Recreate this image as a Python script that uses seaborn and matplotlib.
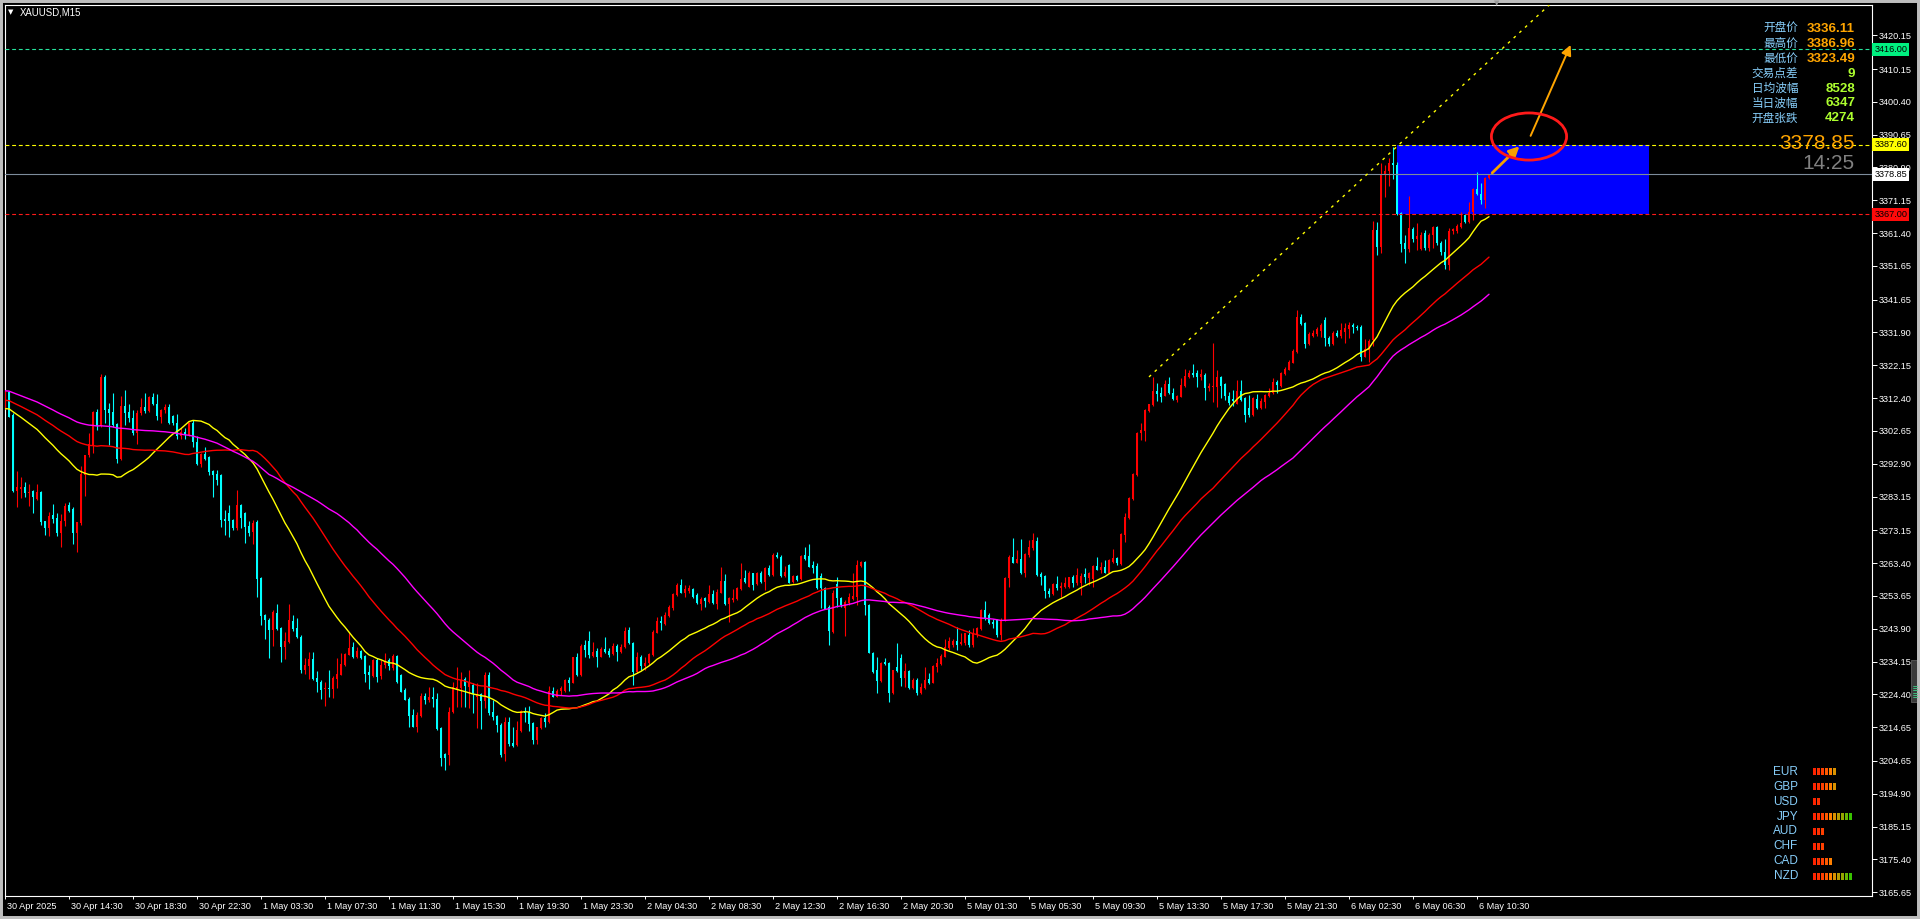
import numpy as np
import pandas as pd
import matplotlib
matplotlib.use("Agg")
import matplotlib.pyplot as plt
import matplotlib.transforms as mtransforms
from matplotlib.patches import Rectangle, Ellipse, FancyArrowPatch
import seaborn as sns

# ---------------- data ----------------
symbol_title = "XAUUSD,M15"

opens = [
    3309.8, 3314.3, 3307.4, 3284.9, 3285.3, 3286.1, 3284.3, 3284.8, 3282.5, 3284.5,
    3275.9, 3273.7, 3277.7, 3276.8, 3272.4, 3275.8, 3280.6, 3279.5, 3272.2, 3275.2,
    3289.5, 3295.5, 3298.5, 3308.4, 3304.1, 3318.8, 3309.1, 3308.4, 3304.7, 3294.2,
    3310.0, 3308.4, 3306.4, 3301.9, 3307.9, 3309.8, 3308.6, 3312.8, 3310.8, 3306.9,
    3308.9, 3309.8, 3307.1, 3305.1, 3301.1, 3302.4, 3301.4, 3305.1, 3299.4, 3292.8,
    3295.8, 3294.8, 3290.7, 3290.0, 3289.5, 3276.6, 3278.4, 3276.2, 3273.7, 3280.6,
    3278.4, 3274.5, 3272.7, 3275.5, 3259.1, 3248.0, 3246.5, 3243.5, 3248.5, 3244.0,
    3238.5, 3240.0, 3246.3, 3244.0, 3241.5, 3231.6, 3232.8, 3234.9, 3229.4, 3228.1,
    3225.9, 3226.4, 3225.9, 3229.1, 3230.1, 3233.1, 3236.1, 3238.4, 3235.4, 3237.4,
    3235.8, 3231.1, 3229.8, 3234.6, 3229.8, 3233.1, 3234.6, 3232.1, 3235.8, 3230.1,
    3225.7, 3223.1, 3218.3, 3214.8, 3218.0, 3223.9, 3222.7, 3223.7, 3222.9, 3214.3,
    3206.7, 3206.4, 3219.2, 3225.7, 3226.2, 3228.9, 3226.5, 3227.2, 3223.7, 3224.5,
    3222.5, 3230.2, 3219.3, 3218.0, 3215.3, 3206.7, 3216.3, 3210.1, 3209.4, 3213.6,
    3219.6, 3219.3, 3216.0, 3210.9, 3214.3, 3217.3, 3216.3, 3225.5, 3223.7, 3225.5,
    3225.5, 3228.7, 3227.9, 3235.4, 3230.1, 3239.1, 3240.4, 3235.9, 3237.4, 3235.6,
    3237.8, 3237.3, 3236.4, 3238.8, 3237.1, 3238.4, 3243.5, 3239.7, 3231.1, 3235.6,
    3232.8, 3233.6, 3236.1, 3242.7, 3246.3, 3245.3, 3247.7, 3250.2, 3253.9, 3256.9,
    3254.6, 3255.2, 3255.7, 3253.9, 3251.4, 3252.9, 3251.9, 3254.2, 3251.4, 3254.6,
    3258.2, 3251.2, 3252.4, 3252.6, 3255.6, 3258.9, 3256.4, 3260.4, 3257.1, 3260.5,
    3257.9, 3261.8, 3259.9, 3265.8, 3265.3, 3259.6, 3262.8, 3257.9, 3259.6, 3258.6,
    3265.8, 3265.5, 3262.8, 3262.5, 3259.6, 3255.9, 3250.4, 3243.0, 3257.2, 3252.9,
    3250.2, 3251.6, 3252.6, 3253.4, 3262.5, 3263.8, 3250.9, 3236.8, 3231.6, 3228.5,
    3234.1, 3233.8, 3224.7, 3232.6, 3235.1, 3229.2, 3231.3, 3226.2, 3228.7, 3224.7,
    3226.2, 3228.9, 3227.9, 3232.6, 3233.4, 3235.6, 3238.3, 3239.1, 3240.4, 3239.4,
    3239.6, 3242.0, 3239.1, 3242.0, 3243.7, 3249.5, 3248.0, 3246.0, 3246.5, 3242.0,
    3246.5, 3258.9, 3265.1, 3263.5, 3264.5, 3260.6, 3265.8, 3267.8, 3270.1, 3260.2,
    3259.6, 3255.2, 3254.2, 3257.2, 3255.9, 3256.4, 3256.4, 3259.2, 3257.4, 3257.4,
    3260.2, 3258.9, 3258.6, 3262.5, 3261.5, 3262.1, 3260.6, 3263.8, 3264.8, 3263.1,
    3271.7, 3276.7, 3282.3, 3289.6, 3301.9, 3302.7, 3308.7, 3310.4, 3314.6, 3314.0,
    3313.0, 3316.6, 3314.0, 3311.8, 3312.8, 3316.0, 3318.6, 3320.0, 3319.8, 3318.6,
    3319.3, 3315.3, 3315.6, 3315.8, 3318.8, 3316.6, 3313.0, 3312.0, 3310.8, 3314.6,
    3312.3, 3309.6, 3307.4, 3312.0, 3309.4, 3311.3, 3313.0, 3313.8, 3317.3, 3316.0,
    3319.6, 3320.9, 3322.9, 3326.2, 3336.5, 3334.6, 3328.5, 3330.8, 3331.4, 3332.4,
    3335.5, 3330.2, 3328.5, 3331.8, 3330.8, 3332.1, 3332.8, 3334.1, 3333.6, 3333.4,
    3324.7, 3326.7, 3329.6, 3362.3, 3357.2, 3378.7, 3380.0, 3382.1, 3381.5, 3367.4,
    3358.4, 3356.6, 3362.5, 3359.6, 3356.6, 3361.5, 3356.9, 3360.8, 3363.3, 3358.6,
    3355.9, 3351.9, 3362.1, 3362.1, 3363.1, 3366.8, 3364.8, 3367.8, 3374.4, 3373.0,
    3371.2, 3377.9,
]

highs = [
    3314.8, 3314.6, 3307.9, 3290.7, 3289.0, 3287.6, 3286.9, 3285.1, 3286.9, 3284.8,
    3276.0, 3278.6, 3280.9, 3278.2, 3278.0, 3281.3, 3281.5, 3280.1, 3275.7, 3292.2,
    3295.5, 3301.9, 3308.6, 3309.3, 3319.7, 3319.2, 3311.0, 3313.8, 3304.9, 3313.0,
    3314.8, 3310.8, 3308.8, 3308.8, 3312.3, 3313.8, 3313.0, 3313.8, 3313.5, 3309.3,
    3310.8, 3310.8, 3307.4, 3307.7, 3303.4, 3303.4, 3305.4, 3305.9, 3301.1, 3296.0,
    3297.9, 3295.2, 3291.0, 3291.0, 3290.0, 3279.1, 3280.6, 3276.4, 3285.1, 3281.1,
    3278.7, 3276.0, 3276.2, 3276.2, 3259.3, 3248.3, 3247.0, 3249.6, 3251.2, 3244.5,
    3243.0, 3251.4, 3248.0, 3247.0, 3242.0, 3235.1, 3237.0, 3237.0, 3231.4, 3228.6,
    3228.1, 3231.6, 3229.8, 3235.1, 3236.6, 3236.6, 3243.0, 3240.0, 3238.6, 3237.6,
    3236.1, 3233.1, 3234.8, 3235.1, 3234.6, 3236.6, 3235.1, 3236.3, 3236.1, 3230.6,
    3226.2, 3223.5, 3220.2, 3219.2, 3224.9, 3224.7, 3226.7, 3226.7, 3224.7, 3214.8,
    3206.9, 3220.7, 3228.2, 3232.6, 3231.1, 3229.7, 3231.6, 3227.7, 3227.7, 3224.7,
    3231.2, 3231.2, 3222.7, 3218.3, 3215.8, 3217.8, 3217.6, 3214.8, 3216.6, 3219.8,
    3220.8, 3221.0, 3216.3, 3214.8, 3217.6, 3219.0, 3226.9, 3226.7, 3225.9, 3226.9,
    3228.9, 3229.7, 3235.6, 3236.6, 3239.4, 3240.5, 3243.2, 3240.0, 3238.1, 3238.6,
    3241.5, 3238.1, 3239.6, 3239.4, 3239.4, 3244.3, 3244.3, 3240.0, 3237.1, 3236.1,
    3235.6, 3236.6, 3243.5, 3247.5, 3247.7, 3249.0, 3250.9, 3254.4, 3257.4, 3258.6,
    3256.9, 3256.9, 3255.9, 3254.4, 3253.2, 3253.4, 3256.9, 3255.4, 3255.6, 3262.1,
    3260.1, 3253.4, 3255.6, 3256.2, 3263.3, 3261.5, 3261.1, 3260.5, 3260.9, 3261.1,
    3262.1, 3262.8, 3266.5, 3266.8, 3265.8, 3262.5, 3263.1, 3259.9, 3259.9, 3265.8,
    3268.1, 3269.1, 3264.1, 3263.3, 3260.4, 3256.4, 3250.9, 3255.4, 3259.2, 3253.4,
    3252.4, 3254.4, 3260.4, 3264.3, 3264.1, 3264.1, 3251.2, 3237.1, 3235.6, 3234.1,
    3235.1, 3234.1, 3231.8, 3239.6, 3236.4, 3233.8, 3231.6, 3229.2, 3229.2, 3227.9,
    3232.6, 3230.8, 3233.1, 3235.1, 3236.4, 3241.0, 3241.5, 3241.0, 3244.5, 3242.5,
    3242.5, 3243.5, 3244.0, 3244.5, 3249.7, 3252.2, 3248.7, 3246.7, 3246.7, 3247.0,
    3259.4, 3265.8, 3271.0, 3267.3, 3270.7, 3266.3, 3270.3, 3272.2, 3271.2, 3260.9,
    3259.9, 3255.9, 3257.4, 3259.6, 3257.9, 3259.4, 3259.4, 3259.9, 3261.8, 3260.4,
    3261.8, 3260.9, 3262.8, 3265.3, 3263.8, 3264.3, 3264.5, 3267.5, 3265.1, 3272.2,
    3278.4, 3282.9, 3290.1, 3302.4, 3305.1, 3309.1, 3310.8, 3318.8, 3316.8, 3315.8,
    3317.8, 3318.6, 3315.3, 3313.3, 3318.3, 3321.0, 3320.7, 3322.5, 3320.7, 3321.0,
    3319.8, 3316.8, 3328.9, 3320.7, 3319.0, 3317.0, 3314.3, 3314.8, 3317.8, 3317.8,
    3312.6, 3313.3, 3312.8, 3313.6, 3312.3, 3313.6, 3315.3, 3318.3, 3317.8, 3320.3,
    3321.7, 3323.7, 3326.9, 3338.5, 3337.5, 3335.0, 3332.0, 3332.5, 3333.5, 3334.6,
    3336.5, 3330.8, 3332.3, 3332.6, 3334.6, 3334.6, 3335.1, 3334.6, 3334.0, 3334.0,
    3329.9, 3329.9, 3365.1, 3364.8, 3382.1, 3381.6, 3383.6, 3386.96, 3382.6, 3367.7,
    3360.8, 3372.4, 3363.3, 3364.3, 3361.8, 3362.3, 3361.5, 3363.5, 3363.5, 3359.0,
    3359.8, 3362.8, 3363.0, 3364.0, 3367.8, 3367.0, 3370.7, 3374.7, 3379.7, 3376.2,
    3378.1, 3379.1,
]

lows = [
    3309.3, 3306.7, 3284.6, 3280.1, 3282.6, 3282.9, 3280.4, 3278.2, 3282.1, 3274.7,
    3271.7, 3271.5, 3275.2, 3271.5, 3268.1, 3274.4, 3278.6, 3269.2, 3266.8, 3274.7,
    3283.3, 3295.0, 3296.2, 3302.9, 3303.9, 3304.9, 3298.5, 3303.9, 3293.0, 3294.0,
    3304.4, 3305.4, 3301.4, 3298.9, 3307.4, 3307.9, 3308.4, 3310.3, 3305.9, 3304.9,
    3307.9, 3304.7, 3304.4, 3300.4, 3300.2, 3300.4, 3301.1, 3297.9, 3292.5, 3292.0,
    3294.0, 3289.5, 3282.9, 3286.6, 3274.2, 3271.7, 3271.2, 3273.2, 3273.2, 3273.7,
    3269.4, 3271.5, 3269.2, 3253.4, 3245.0, 3241.0, 3235.3, 3238.7, 3243.5, 3234.1,
    3234.9, 3239.7, 3243.3, 3241.3, 3230.8, 3230.6, 3229.1, 3228.7, 3225.2, 3223.0,
    3221.0, 3223.7, 3223.2, 3226.2, 3230.1, 3232.9, 3236.1, 3235.1, 3235.1, 3234.9,
    3228.0, 3225.9, 3229.6, 3228.1, 3229.1, 3232.1, 3231.8, 3231.8, 3227.7, 3225.2,
    3222.7, 3214.8, 3214.6, 3213.3, 3217.8, 3221.7, 3222.2, 3220.7, 3213.8, 3203.1,
    3201.9, 3203.4, 3218.9, 3220.7, 3220.7, 3220.8, 3220.3, 3218.8, 3214.3, 3214.0,
    3220.3, 3218.3, 3216.8, 3213.3, 3205.7, 3204.7, 3209.1, 3208.9, 3209.1, 3213.3,
    3216.3, 3213.6, 3209.7, 3209.7, 3214.0, 3214.8, 3216.0, 3223.5, 3223.5, 3224.2,
    3225.2, 3225.5, 3227.7, 3229.9, 3229.9, 3235.6, 3235.1, 3235.6, 3232.4, 3235.4,
    3236.6, 3235.6, 3236.1, 3234.4, 3236.8, 3238.1, 3239.5, 3227.2, 3230.8, 3231.6,
    3231.6, 3233.1, 3235.9, 3242.5, 3243.5, 3245.0, 3247.5, 3249.5, 3253.6, 3254.4,
    3253.2, 3254.4, 3252.9, 3251.4, 3249.5, 3250.4, 3251.6, 3251.4, 3249.9, 3254.4,
    3250.9, 3246.0, 3251.9, 3252.4, 3255.4, 3257.4, 3256.2, 3255.4, 3256.9, 3257.6,
    3255.4, 3259.6, 3259.6, 3264.8, 3259.2, 3259.2, 3257.4, 3257.6, 3258.2, 3258.4,
    3264.3, 3262.1, 3260.5, 3255.6, 3250.0, 3249.7, 3239.1, 3242.7, 3250.4, 3250.4,
    3241.7, 3250.9, 3252.4, 3250.9, 3262.3, 3248.0, 3236.6, 3230.8, 3224.7, 3228.2,
    3233.1, 3222.2, 3224.5, 3231.1, 3226.9, 3226.7, 3225.9, 3225.9, 3224.2, 3224.5,
    3225.9, 3227.5, 3227.7, 3231.1, 3233.1, 3235.4, 3237.6, 3238.6, 3237.6, 3239.1,
    3239.1, 3238.6, 3238.6, 3241.5, 3243.5, 3246.5, 3245.3, 3244.0, 3241.5, 3240.5,
    3246.3, 3256.4, 3263.3, 3263.3, 3260.2, 3259.4, 3265.3, 3267.3, 3259.6, 3256.9,
    3252.9, 3253.4, 3253.9, 3255.4, 3253.4, 3255.9, 3255.9, 3256.4, 3256.9, 3253.9,
    3257.4, 3256.9, 3256.4, 3261.3, 3260.4, 3260.4, 3260.4, 3263.3, 3262.8, 3262.8,
    3269.8, 3276.4, 3282.1, 3289.3, 3300.0, 3299.8, 3308.4, 3310.1, 3311.6, 3311.3,
    3313.0, 3313.6, 3311.8, 3311.3, 3312.6, 3315.8, 3318.3, 3318.8, 3315.8, 3317.8,
    3311.8, 3314.6, 3311.3, 3309.9, 3312.3, 3311.8, 3310.4, 3310.1, 3310.6, 3311.6,
    3305.4, 3306.9, 3307.1, 3309.1, 3309.1, 3309.6, 3312.6, 3313.6, 3313.8, 3315.8,
    3319.3, 3320.7, 3322.7, 3325.9, 3334.0, 3327.2, 3328.2, 3330.5, 3331.0, 3330.6,
    3327.9, 3327.9, 3328.2, 3330.5, 3330.2, 3328.7, 3330.2, 3331.6, 3332.5, 3323.5,
    3324.5, 3323.2, 3328.0, 3354.9, 3355.6, 3372.2, 3375.4, 3377.5, 3366.7, 3355.9,
    3352.4, 3355.9, 3358.9, 3356.4, 3356.4, 3356.4, 3356.0, 3357.0, 3358.0, 3355.0,
    3350.9, 3350.4, 3361.0, 3361.5, 3362.8, 3364.5, 3364.5, 3365.3, 3372.7, 3370.2,
    3368.8, 3377.6,
]

closes = [
    3314.3, 3306.9, 3284.9, 3285.9, 3286.1, 3284.3, 3284.6, 3282.9, 3284.6, 3275.7,
    3273.7, 3277.5, 3276.6, 3272.4, 3276.0, 3280.4, 3278.9, 3272.2, 3275.5, 3289.8,
    3295.5, 3298.8, 3308.4, 3304.1, 3318.6, 3308.9, 3307.9, 3304.4, 3294.2, 3310.0,
    3308.1, 3306.4, 3301.9, 3308.1, 3309.8, 3308.6, 3312.6, 3310.6, 3307.1, 3308.9,
    3309.8, 3304.9, 3304.9, 3301.1, 3302.4, 3301.4, 3305.1, 3299.4, 3292.8, 3295.8,
    3294.2, 3290.5, 3289.5, 3288.1, 3276.2, 3276.0, 3276.0, 3273.7, 3280.6, 3276.7,
    3274.2, 3272.2, 3275.4, 3258.7, 3247.7, 3246.5, 3243.5, 3248.9, 3243.7, 3238.5,
    3240.2, 3246.5, 3243.7, 3241.5, 3231.6, 3233.1, 3234.9, 3229.1, 3228.1, 3225.7,
    3226.4, 3225.9, 3229.4, 3230.6, 3233.4, 3236.4, 3238.1, 3235.4, 3237.4, 3235.1,
    3230.6, 3230.1, 3234.6, 3229.6, 3233.1, 3234.4, 3232.9, 3235.8, 3228.0, 3225.2,
    3222.7, 3218.0, 3214.8, 3218.3, 3223.9, 3222.7, 3223.7, 3222.9, 3214.0, 3205.4,
    3205.4, 3219.2, 3226.5, 3226.7, 3228.8, 3226.9, 3227.7, 3224.5, 3224.5, 3222.5,
    3230.2, 3218.8, 3217.8, 3215.3, 3206.4, 3216.3, 3209.7, 3209.1, 3213.8, 3219.6,
    3219.0, 3215.6, 3210.9, 3214.6, 3217.3, 3216.3, 3225.5, 3223.7, 3225.5, 3226.2,
    3228.7, 3227.9, 3235.4, 3230.1, 3238.8, 3237.6, 3236.1, 3237.1, 3235.6, 3237.8,
    3237.1, 3236.1, 3238.8, 3237.1, 3238.6, 3243.2, 3239.7, 3231.1, 3235.6, 3232.8,
    3233.8, 3236.4, 3243.0, 3246.3, 3245.5, 3248.0, 3250.4, 3254.2, 3256.9, 3254.6,
    3255.6, 3256.1, 3253.4, 3251.6, 3252.6, 3252.2, 3254.2, 3251.6, 3254.9, 3258.2,
    3251.2, 3252.9, 3252.9, 3255.9, 3258.6, 3257.9, 3260.5, 3256.9, 3260.4, 3257.9,
    3261.8, 3259.9, 3265.8, 3265.1, 3259.6, 3260.8, 3257.6, 3259.6, 3258.4, 3265.5,
    3264.5, 3262.3, 3261.8, 3255.9, 3255.9, 3249.9, 3243.3, 3254.4, 3252.9, 3250.9,
    3251.9, 3253.2, 3253.6, 3262.8, 3263.8, 3250.9, 3236.8, 3231.1, 3228.5, 3233.6,
    3233.4, 3224.7, 3231.6, 3231.4, 3229.2, 3231.4, 3226.2, 3228.7, 3224.7, 3226.5,
    3228.7, 3227.9, 3232.8, 3233.6, 3235.8, 3238.5, 3240.4, 3240.4, 3239.1, 3240.1,
    3242.5, 3239.1, 3242.7, 3244.0, 3249.5, 3247.0, 3245.7, 3245.3, 3242.0, 3246.5,
    3258.9, 3265.1, 3263.5, 3264.5, 3260.4, 3266.1, 3268.1, 3270.3, 3259.9, 3259.4,
    3255.2, 3254.2, 3257.2, 3255.9, 3256.6, 3257.4, 3259.2, 3257.4, 3259.9, 3259.6,
    3259.2, 3260.4, 3262.5, 3261.5, 3262.1, 3260.6, 3264.3, 3264.8, 3263.3, 3272.0,
    3277.0, 3282.6, 3289.9, 3302.1, 3302.9, 3308.9, 3310.6, 3314.6, 3313.6, 3312.8,
    3316.6, 3314.0, 3312.0, 3313.0, 3316.3, 3319.0, 3320.0, 3319.3, 3318.6, 3319.6,
    3315.3, 3316.0, 3316.0, 3318.8, 3316.0, 3313.0, 3311.0, 3311.6, 3314.6, 3311.8,
    3307.4, 3307.4, 3312.3, 3309.4, 3311.6, 3313.3, 3314.0, 3317.3, 3316.3, 3320.0,
    3321.2, 3323.2, 3326.5, 3336.5, 3334.4, 3328.5, 3331.4, 3331.8, 3332.8, 3334.1,
    3330.2, 3328.5, 3331.8, 3330.8, 3332.6, 3333.1, 3334.1, 3333.4, 3333.1, 3324.7,
    3326.9, 3329.5, 3362.3, 3357.2, 3378.7, 3380.0, 3382.1, 3381.5, 3367.1, 3358.2,
    3356.6, 3362.8, 3359.8, 3360.5, 3360.8, 3356.9, 3360.8, 3363.3, 3358.6, 3355.9,
    3351.9, 3362.1, 3362.5, 3363.5, 3364.5, 3364.8, 3367.8, 3374.4, 3373.0, 3371.2,
    3377.9, 3378.85,
]

x_labels = ["30 Apr 2025", "30 Apr 14:30", "30 Apr 18:30", "30 Apr 22:30",
            "1 May 03:30", "1 May 07:30", "1 May 11:30", "1 May 15:30",
            "1 May 19:30", "1 May 23:30", "2 May 04:30", "2 May 08:30",
            "2 May 12:30", "2 May 16:30", "2 May 20:30", "5 May 01:30",
            "5 May 05:30", "5 May 09:30", "5 May 13:30", "5 May 17:30",
            "5 May 21:30", "6 May 02:30", "6 May 06:30", "6 May 10:30"]
bars_per_label = 16

y_tick_values = [3420.15, 3410.15, 3400.40, 3390.65, 3380.90, 3371.15, 3361.40,
                 3351.65, 3341.65, 3331.90, 3322.15, 3312.40, 3302.65, 3292.90,
                 3283.15, 3273.15, 3263.40, 3253.65, 3243.90, 3234.15, 3224.40,
                 3214.65, 3204.65, 3194.90, 3185.15, 3175.40, 3165.65]

ma_periods = [28, 45, 65]
ma_prior_levels = [3309.1, 3311.7, 3314.6]
ma_colors = ["#FFFF00", "#FF0000", "#FF00FF"]

level_prices = [3416.00, 3387.60, 3378.85, 3367.00]
level_line_colors = ["#25E39C", "#FFFF00", "#7D8C9C", "#FF1A1A"]
level_box_colors = ["#00F080", "#FFFF00", "#FFFFFF", "#FF0A0A"]
level_dashed = [True, True, False, True]

zone_bars = [348, 411]
zone_prices = [3367.00, 3387.60]
trend_bars = [286, 360]
trend_prices = [3318.7, 3400.4]
arrow1_bars = [371.8, 378.6]
arrow1_prices = [3379.3, 3387.2]
arrow2_bars = [381.4, 391.4]
arrow2_prices = [3390.3, 3417.3]
ellipse_bar, ellipse_price = 381.0, 3390.1
ellipse_w_bars, ellipse_h_price = 18.8, 14.0

info_labels = ["开盘价", "最高价", "最低价", "交易点差", "日均波幅", "当日波幅", "开盘张跌"]
info_values = ["3336.11", "3386.96", "3323.49", "9", "8528", "6347", "4274"]
info_value_colors = ["#FFA500"] * 3 + ["#ADFF2F"] * 4
currencies = ["EUR", "GBP", "USD", "JPY", "AUD", "CHF", "CAD", "NZD"]
strength = [6, 6, 2, 10, 3, 3, 5, 10]
segment_colors = ["#FF2400", "#FF3000", "#FF4000", "#FF5A00", "#FF8000",
                  "#D99200", "#B89C00", "#95A800", "#66B600", "#38C200"]
last_price_text = "3378.85"
countdown_text = "14:25"

# ---------------- styling ----------------
sns.set_theme(style="dark", rc={
    "axes.facecolor": "black", "figure.facecolor": "black",
    "axes.edgecolor": "white", "text.color": "white",
    "xtick.color": "white", "ytick.color": "white", "axes.grid": False,
})
plt.rcParams["font.family"] = ["Liberation Sans", "DejaVu Sans", "Noto Sans CJK SC"]

W, H = 1920, 919
def fx(x): return x / W
def fy(y): return 1 - y / H

fig = plt.figure(figsize=(W / 100, H / 100), dpi=100)
fig.patch.set_facecolor("black")

AX_L, AX_R, AX_T, AX_B = 4.5, 1872.0, 4.5, 896.0
ax = fig.add_axes([fx(AX_L), fy(AX_B), (AX_R - AX_L) / W, (AX_B - AX_T) / H])
ax.set_facecolor("black")

o = np.array(opens); c = np.array(closes)
hi = np.maximum(np.array(highs), np.maximum(o, c))
lo = np.minimum(np.array(lows), np.minimum(o, c))
n = len(c)
assert len(o) == n and len(hi) == n and len(lo) == n
idx = np.arange(n)

# zone rectangle
ax.add_patch(Rectangle((zone_bars[0], zone_prices[0]), zone_bars[1] - zone_bars[0],
                       zone_prices[1] - zone_prices[0], facecolor="#0000FF",
                       edgecolor="none", zorder=1))

# candles
up = c >= o
cols = np.where(up, "#FF0000", "#00FFFF")
ax.vlines(idx, lo, hi, colors=cols, linewidth=0.8, zorder=3)
body_bottom = np.minimum(o, c)
body_h = np.maximum(np.abs(c - o), 0.22)
ax.bar(idx, body_h, bottom=body_bottom, width=0.74, color=cols, linewidth=0, zorder=4)

# moving averages
for p, prior, col in zip(ma_periods, ma_prior_levels, ma_colors):
    padded = np.concatenate([np.full(p - 1, prior), c])
    ma = pd.Series(padded).rolling(p).mean().to_numpy()[p - 1:]
    sns.lineplot(x=idx, y=ma, ax=ax, color=col, linewidth=1.0, zorder=5, legend=False)

# horizontal levels
for p, col, dashed in zip(level_prices, level_line_colors, level_dashed):
    ax.axhline(p, color=col, linewidth=0.8, linestyle=(0, (3.5, 2.5)) if dashed else "-",
               zorder=6)

# trend ray
slope = (trend_prices[1] - trend_prices[0]) / (trend_bars[1] - trend_bars[0])
ray_end = trend_bars[0] + 130
ax.plot([trend_bars[0], ray_end], [trend_prices[0], trend_prices[0] + slope * (ray_end - trend_bars[0])],
        color="#FFFF00", linewidth=1.0, linestyle=(0, (2, 3.6)), zorder=6)

# arrows and ellipse
ax.add_patch(FancyArrowPatch((arrow1_bars[0], arrow1_prices[0]), (arrow1_bars[1], arrow1_prices[1]),
                             arrowstyle="-|>", mutation_scale=15, color="#F5A000",
                             linewidth=2.0, shrinkA=0, shrinkB=0, zorder=7))
ax.add_patch(FancyArrowPatch((arrow2_bars[0], arrow2_prices[0]), (arrow2_bars[1], arrow2_prices[1]),
                             arrowstyle="-|>", mutation_scale=15, color="#FFA500",
                             linewidth=1.4, shrinkA=0, shrinkB=0, zorder=7))
ax.add_patch(Ellipse((ellipse_bar, ellipse_price), ellipse_w_bars, ellipse_h_price,
                     fill=False, edgecolor="#FF1A1A", linewidth=2.0, zorder=7))

ax.set_xlim((AX_L - 5) / 4, (AX_R - 5) / 4)
ax.set_ylim(3164.53, 3429.31)
ax.set_xlabel(""); ax.set_ylabel("")

# axes ticks
ax.yaxis.tick_right()
ax.set_yticks(y_tick_values)
ax.set_yticklabels([f"{v:.2f}" for v in y_tick_values])
ax.tick_params(axis="y", right=True, left=False, length=3.5, width=0.7, colors="white",
               labelsize=6.6, pad=1.5, direction="out")
ax.set_xticks(np.arange(len(x_labels)) * bars_per_label)
ax.set_xticklabels(x_labels)
ax.tick_params(axis="x", bottom=True, length=2.5, width=0.7, colors="white",
               labelsize=6.6, pad=1.5, direction="out")
offset = mtransforms.ScaledTranslation(2 / 100, 0, fig.dpi_scale_trans)
for lab in ax.get_xticklabels():
    lab.set_horizontalalignment("left")
    lab.set_transform(lab.get_transform() + offset)
for s in ax.spines.values():
    s.set_color("white"); s.set_linewidth(0.8); s.set_visible(True)

# price boxes on the axis
trans = mtransforms.blended_transform_factory(ax.transAxes, ax.transData)
for p, bg in zip(level_prices, level_box_colors):
    ax.text(1.0012, p, f"{p:.2f}", transform=trans, ha="left", va="center", fontsize=6.6,
            color="black", zorder=10, clip_on=False,
            bbox=dict(boxstyle="square,pad=0.22", facecolor=bg, edgecolor="none"))

# title
fig.text(fx(8), fy(12.5), "▼", fontsize=5, color="white", ha="left", va="center",
         family=["DejaVu Sans"])
fig.text(fx(20), fy(12.5), symbol_title, fontsize=6.9, color="white", ha="left", va="center")
fig.text(fx(1497), fy(3.5), "▼", fontsize=5, color="#9A9A9A", ha="center", va="center",
         family=["DejaVu Sans"])

# info panel
for r, (lab, val, vc) in enumerate(zip(info_labels, info_values, info_value_colors)):
    yy = 28.7 + 14.95 * r
    fig.text(fx(1798), fy(yy), lab, fontsize=8.4, color="#87CEFA", ha="right", va="center",
             family=["Noto Sans CJK SC", "DejaVu Sans"])
    fig.text(fx(1855), fy(yy), val, fontsize=9.6, color=vc, ha="right", va="center",
             fontweight="bold")

fig.text(fx(1855), fy(144), last_price_text, fontsize=15, color="#FFA500", ha="right", va="center")
fig.text(fx(1855), fy(163.5), countdown_text, fontsize=15, color="#808080", ha="right", va="center")

# currency strength panel
for r, cur in enumerate(currencies):
    fig.text(fx(1798), fy(771.7 + 14.94 * r), cur, fontsize=8.5, color="#87CEFA",
             ha="right", va="center")
cax = fig.add_axes([fx(1812.5), fy(771.7 - 7.47 + 14.94 * 8), 48 / W, 14.94 * 8 / H])
cax.set_xlim(-0.5, 11.5); cax.set_ylim(7.5, -0.5); cax.axis("off")
cax.patch.set_alpha(0)
for r, s in enumerate(strength):
    segs = np.arange(s)
    cax.bar(segs, 0.5, bottom=r - 0.25, width=0.66, color=segment_colors[:s], linewidth=0)

# small scroll widget at the right edge
fig.add_artist(Rectangle((fx(1911), fy(702)), 7 / W, 42 / H, transform=fig.transFigure,
                         facecolor="#3A3A3A", edgecolor="#5A5A5A", linewidth=0.6))
for k in range(6):
    yy = 686 + 2.2 * k
    fig.add_artist(plt.Line2D([fx(1912.5), fx(1916.5)], [fy(yy), fy(yy)],
                              transform=fig.transFigure, color="#3FD08A", linewidth=0.6))

# window frame
fig.add_artist(Rectangle((0, 0), 1, 1, transform=fig.transFigure, fill=False,
                         edgecolor="#BDBDBD", linewidth=4.3))

fig.savefig("out.png", dpi=100, facecolor="black")
